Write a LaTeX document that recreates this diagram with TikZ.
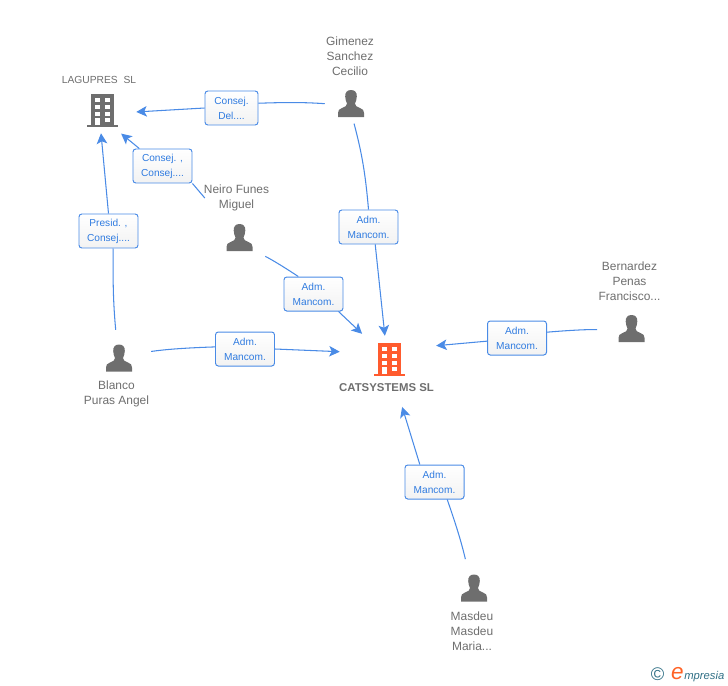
\documentclass[tikz,border=0pt]{standalone}
\usepackage{fontspec}
\setmainfont{Liberation Sans}
\usetikzlibrary{arrows.meta}
\newcommand{\px}{0.025cm}
\definecolor{iconGray}{HTML}{6E6E6E}
\definecolor{linkBlue}{HTML}{4A8BE6}
\definecolor{textBlue}{HTML}{2F7BE0}
\definecolor{catOrange}{HTML}{FF5B2E}
\definecolor{logoTeal}{HTML}{2F6F85}
\tikzset{
	link/.style={draw=linkBlue,line width=0.75pt},
	arrowlink/.style={link,->,>={Stealth[length=7.5pt,width=7.5pt,inset=1.8pt]}},
	rolebox/.style={draw=linkBlue,line width=0.7pt,rounded corners=2pt,top color=white,bottom color=black!5,
		text=textBlue,align=center,inner sep=0pt,minimum width=59*\px,minimum height=34*\px,
		font=\fontsize{7.2}{10.7}\selectfont},
	namelabel/.style={text=iconGray,align=center,inner sep=0pt,font=\fontsize{8.5}{10.7}\selectfont},
	personspot/.style={inner sep=0pt,minimum size=28*\px},
	buildingspot/.style={inner sep=0pt,minimum width=31*\px,minimum height=33*\px},
	pics/person/.style={code={
		\fill[iconGray] (0,-13.5) .. controls (-4,-13.5) and (-6,-11) .. (-5.8,-7) .. controls (-5.6,-4) and (-5,-2) .. (-4,0)
			.. controls (-4,2.5) and (-6,3.5) .. (-9,4.5) .. controls (-12,5.5) and (-13,7) .. (-13,9.5) -- (-13,13.5) -- (13,13.5) -- (13,9.5)
			.. controls (13,7) and (12,5.5) .. (9,4.5) .. controls (6,3.5) and (4,2.5) .. (4,0)
			.. controls (5,-2) and (5.6,-4) .. (5.8,-7) .. controls (6,-11) and (4,-13.5) .. (0,-13.5) -- cycle;
	}},
	pics/building/.style={code={
		\fill[#1] (-11.5,-16.5) rectangle (11.5,14.5);
		\fill[#1] (-15.5,14.5) rectangle (15.5,16.5);
		\foreach \rowy in {-12.5,-5.5,1.5} {
			\fill[white] (-7.5,\rowy) rectangle +(5,4);
			\fill[white] (2,\rowy) rectangle +(5,4);
		}
		\fill[white] (-7.5,7.5) rectangle (-2.5,14.5);
		\fill[white] (2,7.5) rectangle (7,11.5);
	}},
}
\begin{document}
\begin{tikzpicture}[x=\px,y=-\px]
	\useasboundingbox (0,0) rectangle (728,685);

	\node[buildingspot] (lagupres) at (102.5,110.5) {};
	\node[buildingspot] (catsystems) at (389.5,359.5) {};
	\node[personspot] (gimenez) at (351,103.5) {};
	\node[personspot] (neiro) at (239.5,237.5) {};
	\node[personspot] (blanco) at (119,358) {};
	\node[personspot] (bernardez) at (631.5,328.5) {};
	\node[personspot] (masdeu) at (474,588) {};

	\pic at (lagupres) {building=iconGray};
	\pic at (catsystems) {building=catOrange};
	\foreach \who in {gimenez,neiro,blanco,bernardez,masdeu}
		\pic at (\who) {person};

	\node[namelabel,font=\fontsize{7.3}{10.7}\selectfont] (lagupresName) at (99,80) {LAGUPRES\ \ SL};
	\node[namelabel,font=\bfseries\fontsize{8.1}{10.7}\selectfont] (catsystemsName) at (386.5,388) {CATSYSTEMS SL};
	\node[namelabel] (gimenezName) at (350,56) {Gimenez\\Sanchez\\Cecilio};
	\node[namelabel] (neiroName) at (236.5,198) {Neiro Funes\\Miguel};
	\node[namelabel] (blancoName) at (116.5,394) {Blanco\\Puras Angel};
	\node[namelabel] (bernardezName) at (629.5,281) {Bernardez\\Penas\\Francisco...};
	\node[namelabel] (masdeuName) at (472,631) {Masdeu\\Masdeu\\Maria...};

	\node[rolebox,minimum width=53*\px] (roleDel) at (231.5,108) {Consej.\\Del....};
	\node[rolebox] (roleConsej) at (162.5,166) {Consej. ,\\Consej....};
	\node[rolebox] (rolePresid) at (108.5,231) {Presid. ,\\Consej....};
	\node[rolebox] (roleGimenez) at (368.5,227) {Adm.\\Mancom.};
	\node[rolebox] (roleNeiro) at (313.5,294) {Adm.\\Mancom.};
	\node[rolebox] (roleBlanco) at (245,349) {Adm.\\Mancom.};
	\node[rolebox] (roleBernardez) at (517,338) {Adm.\\Mancom.};
	\node[rolebox] (roleMasdeu) at (434.5,482) {Adm.\\Mancom.};

	\draw[link,shorten <=12*\px] (gimenez.184) to[bend right=3] (roleDel.10);
	\draw[arrowlink,shorten >=18*\px] (roleDel.west) to (lagupres.-9);
	\draw[link,shorten <=33*\px] (neiro.133) to (roleConsej.south east);
	\draw[arrowlink,shorten >=10*\px] (roleConsej.143) to (lagupres.-57);
	\draw[link,shorten <=14*\px] (blanco.98) to[bend left=3] (rolePresid.-75);
	\draw[arrowlink,shorten >=6*\px] (rolePresid.north) to (lagupres.-97);
	\draw[link,shorten <=6*\px] (gimenez.-84) to[bend left=5] (roleGimenez.north);
	\draw[arrowlink,shorten >=7*\px] (roleGimenez.-69) to (catsystems.103);
	\draw[link,shorten <=13*\px] (neiro.-42) to[bend left=3] (roleNeiro.131);
	\draw[arrowlink,shorten >=16*\px] (roleNeiro.-35) to (catsystems.137);
	\draw[link,shorten <=18*\px] (blanco.16) to[bend left=3] (roleBlanco.176);
	\draw[arrowlink,shorten >=34*\px] (roleBlanco.east) to (catsystems.158);
	\draw[link,shorten <=20*\px] (bernardez.186) to[bend right=3] (roleBernardez.11);
	\draw[arrowlink,shorten >=31*\px] (roleBernardez.186) to (catsystems.35);
	\draw[link,shorten <=15*\px] (masdeu.110) to[bend right=3] (roleMasdeu.-54);
	\draw[arrowlink,shorten >=32*\px] (roleMasdeu.130) to (catsystems.-79);

	\node[inner sep=0pt,text=logoTeal,font=\fontsize{13}{14}\selectfont] (logoMark) at (657.5,674) {©};
	\node[inner sep=0pt,text=catOrange!80!orange,font=\fontsize{16}{18}\itshape\selectfont,anchor=base east] (logoInitial) at (684,679) {e};
	\node[inner sep=0pt,text=logoTeal,font=\fontsize{8}{10}\itshape\selectfont,anchor=base west] (logoWord) at (logoInitial.base east) {mpresia};
\end{tikzpicture}
\end{document}
